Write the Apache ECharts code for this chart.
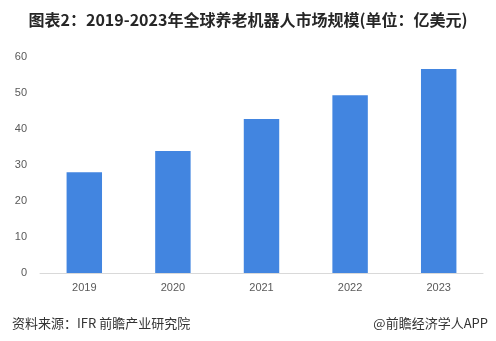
<!DOCTYPE html>
<html>
<head>
<meta charset="utf-8">
<script src="https://cdn.jsdelivr.net/npm/echarts@6/dist/echarts.min.js"></script>
<style>
html,body{margin:0;padding:0;background:#fff;}
#c{width:496px;height:341px;}
</style>
</head>
<body>
<div id="c"></div>
<script>
const categories = ['2019', '2020', '2021', '2022', '2023'];
const values = [28, 33.9, 42.8, 49.4, 56.7];
const yTicks = [0, 10, 20, 30, 40, 50, 60];

const chart = echarts.init(document.getElementById('c'), null, {renderer: 'canvas'});
chart.setOption({
  animation: false,
  backgroundColor: '#fff',
  title: [
    {
      text: '图表2：2019-2023年全球养老机器人市场规模(单位：亿美元)',
      left: 'center', top: 7,
      textStyle: {fontFamily: 'Noto Sans CJK SC', fontSize: 16, fontWeight: 'bold', color: '#262626'}
    },
    {
      text: '资料来源：IFR 前瞻产业研究院',
      left: 7, top: 312,
      textStyle: {fontFamily: 'Noto Sans CJK SC', fontSize: 13, fontWeight: 'normal', color: '#333'}
    },
    {
      text: '@前瞻经济学人APP',
      right: 3, top: 312,
      textStyle: {fontFamily: 'Noto Sans CJK SC', fontSize: 13, fontWeight: 'normal', color: '#333'}
    }
  ],
  grid: {left: 40, right: 13, top: 57, bottom: 68},
  xAxis: {
    type: 'category',
    data: categories,
    axisLine: {lineStyle: {color: '#d9d9d9'}},
    axisTick: {show: false},
    axisLabel: {color: '#595959', fontSize: 11, margin: 9, fontFamily: 'Liberation Sans'}
  },
  yAxis: {
    type: 'value',
    min: yTicks[0], max: yTicks[yTicks.length - 1], interval: 10,
    splitLine: {show: false},
    axisLine: {show: false},
    axisTick: {show: false},
    axisLabel: {color: '#595959', fontSize: 11, margin: 13, fontFamily: 'Liberation Sans'}
  },
  series: [{
    type: 'bar',
    data: values,
    barWidth: '40%',
    itemStyle: {color: '#4285e0'}
  }]
});
</script>
</body>
</html>
